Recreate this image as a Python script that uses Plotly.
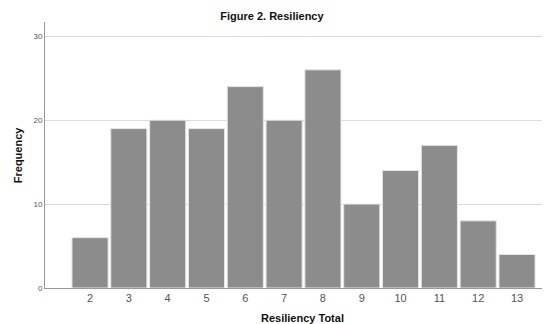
import plotly.graph_objects as go

categories = [2, 3, 4, 5, 6, 7, 8, 9, 10, 11, 12, 13]
frequency = [6, 19, 20, 19, 24, 20, 26, 10, 14, 17, 8, 4]

fig = go.Figure(go.Bar(
    x=categories, y=frequency, width=0.93,
    marker=dict(color="#8c8c8c", line=dict(color="#e6e6e6", width=1)),
))
fig.update_layout(
    width=542, height=316,
    margin=dict(l=37, r=0, t=14, b=36, autoexpand=False),
    plot_bgcolor="white", paper_bgcolor="white",
    font=dict(family="Liberation Sans, Arial, sans-serif", color="#333"),
    title=dict(text="<b>Figure 2. Resiliency</b>", x=0.487, xanchor="center",
               y=0.975, yanchor="middle", font=dict(size=11, color="#111")),
    showlegend=False,
    annotations=[
        dict(text="<b>Resiliency Total</b>", xref="paper", yref="paper",
             x=0.51, y=-0.112, xanchor="center", yanchor="middle",
             showarrow=False, font=dict(size=11, color="#111")),
        dict(text="<b>Frequency</b>", xref="paper", yref="paper",
             x=-0.053, y=0.5, xanchor="center", yanchor="middle", textangle=-90,
             showarrow=False, font=dict(size=11, color="#111")),
    ],
)
fig.update_xaxes(
    range=[0.84, 13.85], tickvals=categories, ticktext=[str(c) for c in categories],
    showgrid=False, showline=True, linecolor="#999", linewidth=1,
    ticks="", tickfont=dict(size=11, color="#555"), automargin=False,
)
fig.update_yaxes(
    range=[0, 31.7], tickvals=[0, 10, 20, 30],
    showgrid=True, gridcolor="#dcdcdc", gridwidth=1,
    showline=True, linecolor="#999", linewidth=1, zeroline=False,
    ticks="", tickfont=dict(size=8, color="#555"), automargin=False,
)
fig.write_html("out.html")
